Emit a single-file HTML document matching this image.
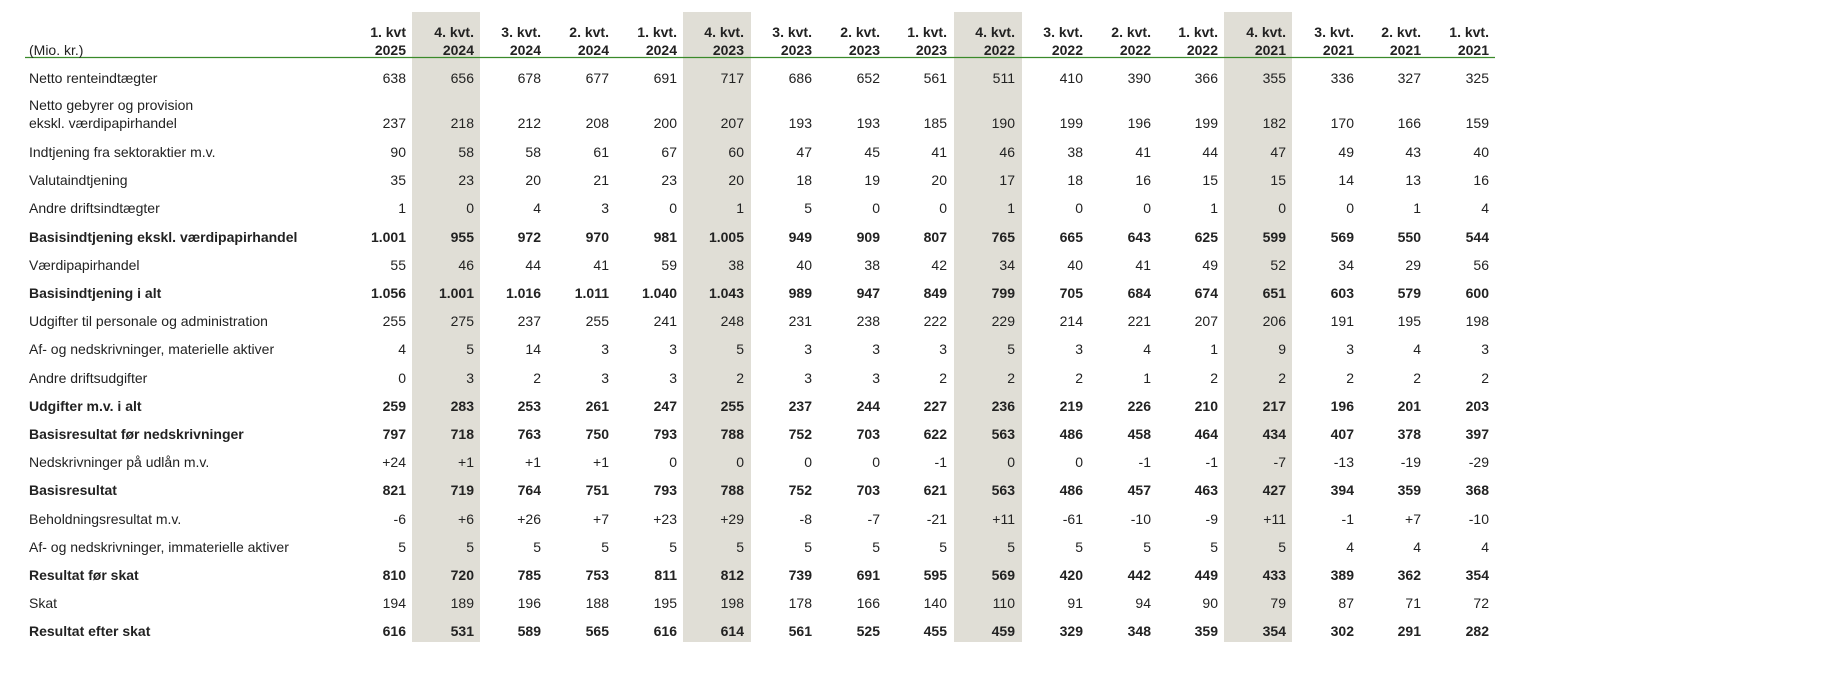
<!DOCTYPE html>
<html><head><meta charset="utf-8"><style>
html,body{margin:0;padding:0;background:#fff;}
svg{display:block;}
text{font-family:"Liberation Sans",sans-serif;font-size:14px;fill:#222;}
.b{font-weight:bold;}
</style></head><body>
<svg width="1843" height="686" viewBox="0 0 1843 686" xmlns="http://www.w3.org/2000/svg">
<rect x="412" y="12" width="68" height="630" fill="#e0ded6"/>
<rect x="683" y="12" width="68" height="630" fill="#e0ded6"/>
<rect x="954" y="12" width="68" height="630" fill="#e0ded6"/>
<rect x="1224" y="12" width="68" height="630" fill="#e0ded6"/>
<line x1="25" y1="57.5" x2="1495" y2="57.5" stroke="#3a8a2a" stroke-width="1.3"/>
<text x="29" y="55">(Mio. kr.)</text>
<text class="b" text-anchor="end" y="37"><tspan x="406">1. kvt</tspan><tspan x="474">4. kvt.</tspan><tspan x="541">3. kvt.</tspan><tspan x="609">2. kvt.</tspan><tspan x="677">1. kvt.</tspan><tspan x="744">4. kvt.</tspan><tspan x="812">3. kvt.</tspan><tspan x="880">2. kvt.</tspan><tspan x="947">1. kvt.</tspan><tspan x="1015">4. kvt.</tspan><tspan x="1083">3. kvt.</tspan><tspan x="1151">2. kvt.</tspan><tspan x="1218">1. kvt.</tspan><tspan x="1286">4. kvt.</tspan><tspan x="1354">3. kvt.</tspan><tspan x="1421">2. kvt.</tspan><tspan x="1489">1. kvt.</tspan></text>
<text class="b" text-anchor="end" y="55"><tspan x="406">2025</tspan><tspan x="474">2024</tspan><tspan x="541">2024</tspan><tspan x="609">2024</tspan><tspan x="677">2024</tspan><tspan x="744">2023</tspan><tspan x="812">2023</tspan><tspan x="880">2023</tspan><tspan x="947">2023</tspan><tspan x="1015">2022</tspan><tspan x="1083">2022</tspan><tspan x="1151">2022</tspan><tspan x="1218">2022</tspan><tspan x="1286">2021</tspan><tspan x="1354">2021</tspan><tspan x="1421">2021</tspan><tspan x="1489">2021</tspan></text>

<text x="29" y="83">Netto renteindtægter</text>
<text text-anchor="end" y="83"><tspan x="406">638</tspan><tspan x="474">656</tspan><tspan x="541">678</tspan><tspan x="609">677</tspan><tspan x="677">691</tspan><tspan x="744">717</tspan><tspan x="812">686</tspan><tspan x="880">652</tspan><tspan x="947">561</tspan><tspan x="1015">511</tspan><tspan x="1083">410</tspan><tspan x="1151">390</tspan><tspan x="1218">366</tspan><tspan x="1286">355</tspan><tspan x="1354">336</tspan><tspan x="1421">327</tspan><tspan x="1489">325</tspan></text>

<text x="29" y="110">Netto gebyrer og provision</text>
<text x="29" y="128">ekskl. værdipapirhandel</text>
<text text-anchor="end" y="128"><tspan x="406">237</tspan><tspan x="474">218</tspan><tspan x="541">212</tspan><tspan x="609">208</tspan><tspan x="677">200</tspan><tspan x="744">207</tspan><tspan x="812">193</tspan><tspan x="880">193</tspan><tspan x="947">185</tspan><tspan x="1015">190</tspan><tspan x="1083">199</tspan><tspan x="1151">196</tspan><tspan x="1218">199</tspan><tspan x="1286">182</tspan><tspan x="1354">170</tspan><tspan x="1421">166</tspan><tspan x="1489">159</tspan></text>

<text x="29" y="157">Indtjening fra sektoraktier m.v.</text>
<text text-anchor="end" y="157"><tspan x="406">90</tspan><tspan x="474">58</tspan><tspan x="541">58</tspan><tspan x="609">61</tspan><tspan x="677">67</tspan><tspan x="744">60</tspan><tspan x="812">47</tspan><tspan x="880">45</tspan><tspan x="947">41</tspan><tspan x="1015">46</tspan><tspan x="1083">38</tspan><tspan x="1151">41</tspan><tspan x="1218">44</tspan><tspan x="1286">47</tspan><tspan x="1354">49</tspan><tspan x="1421">43</tspan><tspan x="1489">40</tspan></text>

<text x="29" y="185">Valutaindtjening</text>
<text text-anchor="end" y="185"><tspan x="406">35</tspan><tspan x="474">23</tspan><tspan x="541">20</tspan><tspan x="609">21</tspan><tspan x="677">23</tspan><tspan x="744">20</tspan><tspan x="812">18</tspan><tspan x="880">19</tspan><tspan x="947">20</tspan><tspan x="1015">17</tspan><tspan x="1083">18</tspan><tspan x="1151">16</tspan><tspan x="1218">15</tspan><tspan x="1286">15</tspan><tspan x="1354">14</tspan><tspan x="1421">13</tspan><tspan x="1489">16</tspan></text>

<text x="29" y="213">Andre driftsindtægter</text>
<text text-anchor="end" y="213"><tspan x="406">1</tspan><tspan x="474">0</tspan><tspan x="541">4</tspan><tspan x="609">3</tspan><tspan x="677">0</tspan><tspan x="744">1</tspan><tspan x="812">5</tspan><tspan x="880">0</tspan><tspan x="947">0</tspan><tspan x="1015">1</tspan><tspan x="1083">0</tspan><tspan x="1151">0</tspan><tspan x="1218">1</tspan><tspan x="1286">0</tspan><tspan x="1354">0</tspan><tspan x="1421">1</tspan><tspan x="1489">4</tspan></text>

<text class="b" x="29" y="242">Basisindtjening ekskl. værdipapirhandel</text>
<text class="b" text-anchor="end" y="242"><tspan x="406">1.001</tspan><tspan x="474">955</tspan><tspan x="541">972</tspan><tspan x="609">970</tspan><tspan x="677">981</tspan><tspan x="744">1.005</tspan><tspan x="812">949</tspan><tspan x="880">909</tspan><tspan x="947">807</tspan><tspan x="1015">765</tspan><tspan x="1083">665</tspan><tspan x="1151">643</tspan><tspan x="1218">625</tspan><tspan x="1286">599</tspan><tspan x="1354">569</tspan><tspan x="1421">550</tspan><tspan x="1489">544</tspan></text>

<text x="29" y="270">Værdipapirhandel</text>
<text text-anchor="end" y="270"><tspan x="406">55</tspan><tspan x="474">46</tspan><tspan x="541">44</tspan><tspan x="609">41</tspan><tspan x="677">59</tspan><tspan x="744">38</tspan><tspan x="812">40</tspan><tspan x="880">38</tspan><tspan x="947">42</tspan><tspan x="1015">34</tspan><tspan x="1083">40</tspan><tspan x="1151">41</tspan><tspan x="1218">49</tspan><tspan x="1286">52</tspan><tspan x="1354">34</tspan><tspan x="1421">29</tspan><tspan x="1489">56</tspan></text>

<text class="b" x="29" y="298">Basisindtjening i alt</text>
<text class="b" text-anchor="end" y="298"><tspan x="406">1.056</tspan><tspan x="474">1.001</tspan><tspan x="541">1.016</tspan><tspan x="609">1.011</tspan><tspan x="677">1.040</tspan><tspan x="744">1.043</tspan><tspan x="812">989</tspan><tspan x="880">947</tspan><tspan x="947">849</tspan><tspan x="1015">799</tspan><tspan x="1083">705</tspan><tspan x="1151">684</tspan><tspan x="1218">674</tspan><tspan x="1286">651</tspan><tspan x="1354">603</tspan><tspan x="1421">579</tspan><tspan x="1489">600</tspan></text>

<text x="29" y="326">Udgifter til personale og administration</text>
<text text-anchor="end" y="326"><tspan x="406">255</tspan><tspan x="474">275</tspan><tspan x="541">237</tspan><tspan x="609">255</tspan><tspan x="677">241</tspan><tspan x="744">248</tspan><tspan x="812">231</tspan><tspan x="880">238</tspan><tspan x="947">222</tspan><tspan x="1015">229</tspan><tspan x="1083">214</tspan><tspan x="1151">221</tspan><tspan x="1218">207</tspan><tspan x="1286">206</tspan><tspan x="1354">191</tspan><tspan x="1421">195</tspan><tspan x="1489">198</tspan></text>

<text x="29" y="354">Af- og nedskrivninger, materielle aktiver</text>
<text text-anchor="end" y="354"><tspan x="406">4</tspan><tspan x="474">5</tspan><tspan x="541">14</tspan><tspan x="609">3</tspan><tspan x="677">3</tspan><tspan x="744">5</tspan><tspan x="812">3</tspan><tspan x="880">3</tspan><tspan x="947">3</tspan><tspan x="1015">5</tspan><tspan x="1083">3</tspan><tspan x="1151">4</tspan><tspan x="1218">1</tspan><tspan x="1286">9</tspan><tspan x="1354">3</tspan><tspan x="1421">4</tspan><tspan x="1489">3</tspan></text>

<text x="29" y="383">Andre driftsudgifter</text>
<text text-anchor="end" y="383"><tspan x="406">0</tspan><tspan x="474">3</tspan><tspan x="541">2</tspan><tspan x="609">3</tspan><tspan x="677">3</tspan><tspan x="744">2</tspan><tspan x="812">3</tspan><tspan x="880">3</tspan><tspan x="947">2</tspan><tspan x="1015">2</tspan><tspan x="1083">2</tspan><tspan x="1151">1</tspan><tspan x="1218">2</tspan><tspan x="1286">2</tspan><tspan x="1354">2</tspan><tspan x="1421">2</tspan><tspan x="1489">2</tspan></text>

<text class="b" x="29" y="411">Udgifter m.v. i alt</text>
<text class="b" text-anchor="end" y="411"><tspan x="406">259</tspan><tspan x="474">283</tspan><tspan x="541">253</tspan><tspan x="609">261</tspan><tspan x="677">247</tspan><tspan x="744">255</tspan><tspan x="812">237</tspan><tspan x="880">244</tspan><tspan x="947">227</tspan><tspan x="1015">236</tspan><tspan x="1083">219</tspan><tspan x="1151">226</tspan><tspan x="1218">210</tspan><tspan x="1286">217</tspan><tspan x="1354">196</tspan><tspan x="1421">201</tspan><tspan x="1489">203</tspan></text>

<text class="b" x="29" y="439">Basisresultat før nedskrivninger</text>
<text class="b" text-anchor="end" y="439"><tspan x="406">797</tspan><tspan x="474">718</tspan><tspan x="541">763</tspan><tspan x="609">750</tspan><tspan x="677">793</tspan><tspan x="744">788</tspan><tspan x="812">752</tspan><tspan x="880">703</tspan><tspan x="947">622</tspan><tspan x="1015">563</tspan><tspan x="1083">486</tspan><tspan x="1151">458</tspan><tspan x="1218">464</tspan><tspan x="1286">434</tspan><tspan x="1354">407</tspan><tspan x="1421">378</tspan><tspan x="1489">397</tspan></text>

<text x="29" y="467">Nedskrivninger på udlån m.v.</text>
<text text-anchor="end" y="467"><tspan x="406">+24</tspan><tspan x="474">+1</tspan><tspan x="541">+1</tspan><tspan x="609">+1</tspan><tspan x="677">0</tspan><tspan x="744">0</tspan><tspan x="812">0</tspan><tspan x="880">0</tspan><tspan x="947">-1</tspan><tspan x="1015">0</tspan><tspan x="1083">0</tspan><tspan x="1151">-1</tspan><tspan x="1218">-1</tspan><tspan x="1286">-7</tspan><tspan x="1354">-13</tspan><tspan x="1421">-19</tspan><tspan x="1489">-29</tspan></text>

<text class="b" x="29" y="495">Basisresultat</text>
<text class="b" text-anchor="end" y="495"><tspan x="406">821</tspan><tspan x="474">719</tspan><tspan x="541">764</tspan><tspan x="609">751</tspan><tspan x="677">793</tspan><tspan x="744">788</tspan><tspan x="812">752</tspan><tspan x="880">703</tspan><tspan x="947">621</tspan><tspan x="1015">563</tspan><tspan x="1083">486</tspan><tspan x="1151">457</tspan><tspan x="1218">463</tspan><tspan x="1286">427</tspan><tspan x="1354">394</tspan><tspan x="1421">359</tspan><tspan x="1489">368</tspan></text>

<text x="29" y="524">Beholdningsresultat m.v.</text>
<text text-anchor="end" y="524"><tspan x="406">-6</tspan><tspan x="474">+6</tspan><tspan x="541">+26</tspan><tspan x="609">+7</tspan><tspan x="677">+23</tspan><tspan x="744">+29</tspan><tspan x="812">-8</tspan><tspan x="880">-7</tspan><tspan x="947">-21</tspan><tspan x="1015">+11</tspan><tspan x="1083">-61</tspan><tspan x="1151">-10</tspan><tspan x="1218">-9</tspan><tspan x="1286">+11</tspan><tspan x="1354">-1</tspan><tspan x="1421">+7</tspan><tspan x="1489">-10</tspan></text>

<text x="29" y="552">Af- og nedskrivninger, immaterielle aktiver</text>
<text text-anchor="end" y="552"><tspan x="406">5</tspan><tspan x="474">5</tspan><tspan x="541">5</tspan><tspan x="609">5</tspan><tspan x="677">5</tspan><tspan x="744">5</tspan><tspan x="812">5</tspan><tspan x="880">5</tspan><tspan x="947">5</tspan><tspan x="1015">5</tspan><tspan x="1083">5</tspan><tspan x="1151">5</tspan><tspan x="1218">5</tspan><tspan x="1286">5</tspan><tspan x="1354">4</tspan><tspan x="1421">4</tspan><tspan x="1489">4</tspan></text>

<text class="b" x="29" y="580">Resultat før skat</text>
<text class="b" text-anchor="end" y="580"><tspan x="406">810</tspan><tspan x="474">720</tspan><tspan x="541">785</tspan><tspan x="609">753</tspan><tspan x="677">811</tspan><tspan x="744">812</tspan><tspan x="812">739</tspan><tspan x="880">691</tspan><tspan x="947">595</tspan><tspan x="1015">569</tspan><tspan x="1083">420</tspan><tspan x="1151">442</tspan><tspan x="1218">449</tspan><tspan x="1286">433</tspan><tspan x="1354">389</tspan><tspan x="1421">362</tspan><tspan x="1489">354</tspan></text>

<text x="29" y="608">Skat</text>
<text text-anchor="end" y="608"><tspan x="406">194</tspan><tspan x="474">189</tspan><tspan x="541">196</tspan><tspan x="609">188</tspan><tspan x="677">195</tspan><tspan x="744">198</tspan><tspan x="812">178</tspan><tspan x="880">166</tspan><tspan x="947">140</tspan><tspan x="1015">110</tspan><tspan x="1083">91</tspan><tspan x="1151">94</tspan><tspan x="1218">90</tspan><tspan x="1286">79</tspan><tspan x="1354">87</tspan><tspan x="1421">71</tspan><tspan x="1489">72</tspan></text>

<text class="b" x="29" y="636">Resultat efter skat</text>
<text class="b" text-anchor="end" y="636"><tspan x="406">616</tspan><tspan x="474">531</tspan><tspan x="541">589</tspan><tspan x="609">565</tspan><tspan x="677">616</tspan><tspan x="744">614</tspan><tspan x="812">561</tspan><tspan x="880">525</tspan><tspan x="947">455</tspan><tspan x="1015">459</tspan><tspan x="1083">329</tspan><tspan x="1151">348</tspan><tspan x="1218">359</tspan><tspan x="1286">354</tspan><tspan x="1354">302</tspan><tspan x="1421">291</tspan><tspan x="1489">282</tspan></text>
</svg>
</body></html>
